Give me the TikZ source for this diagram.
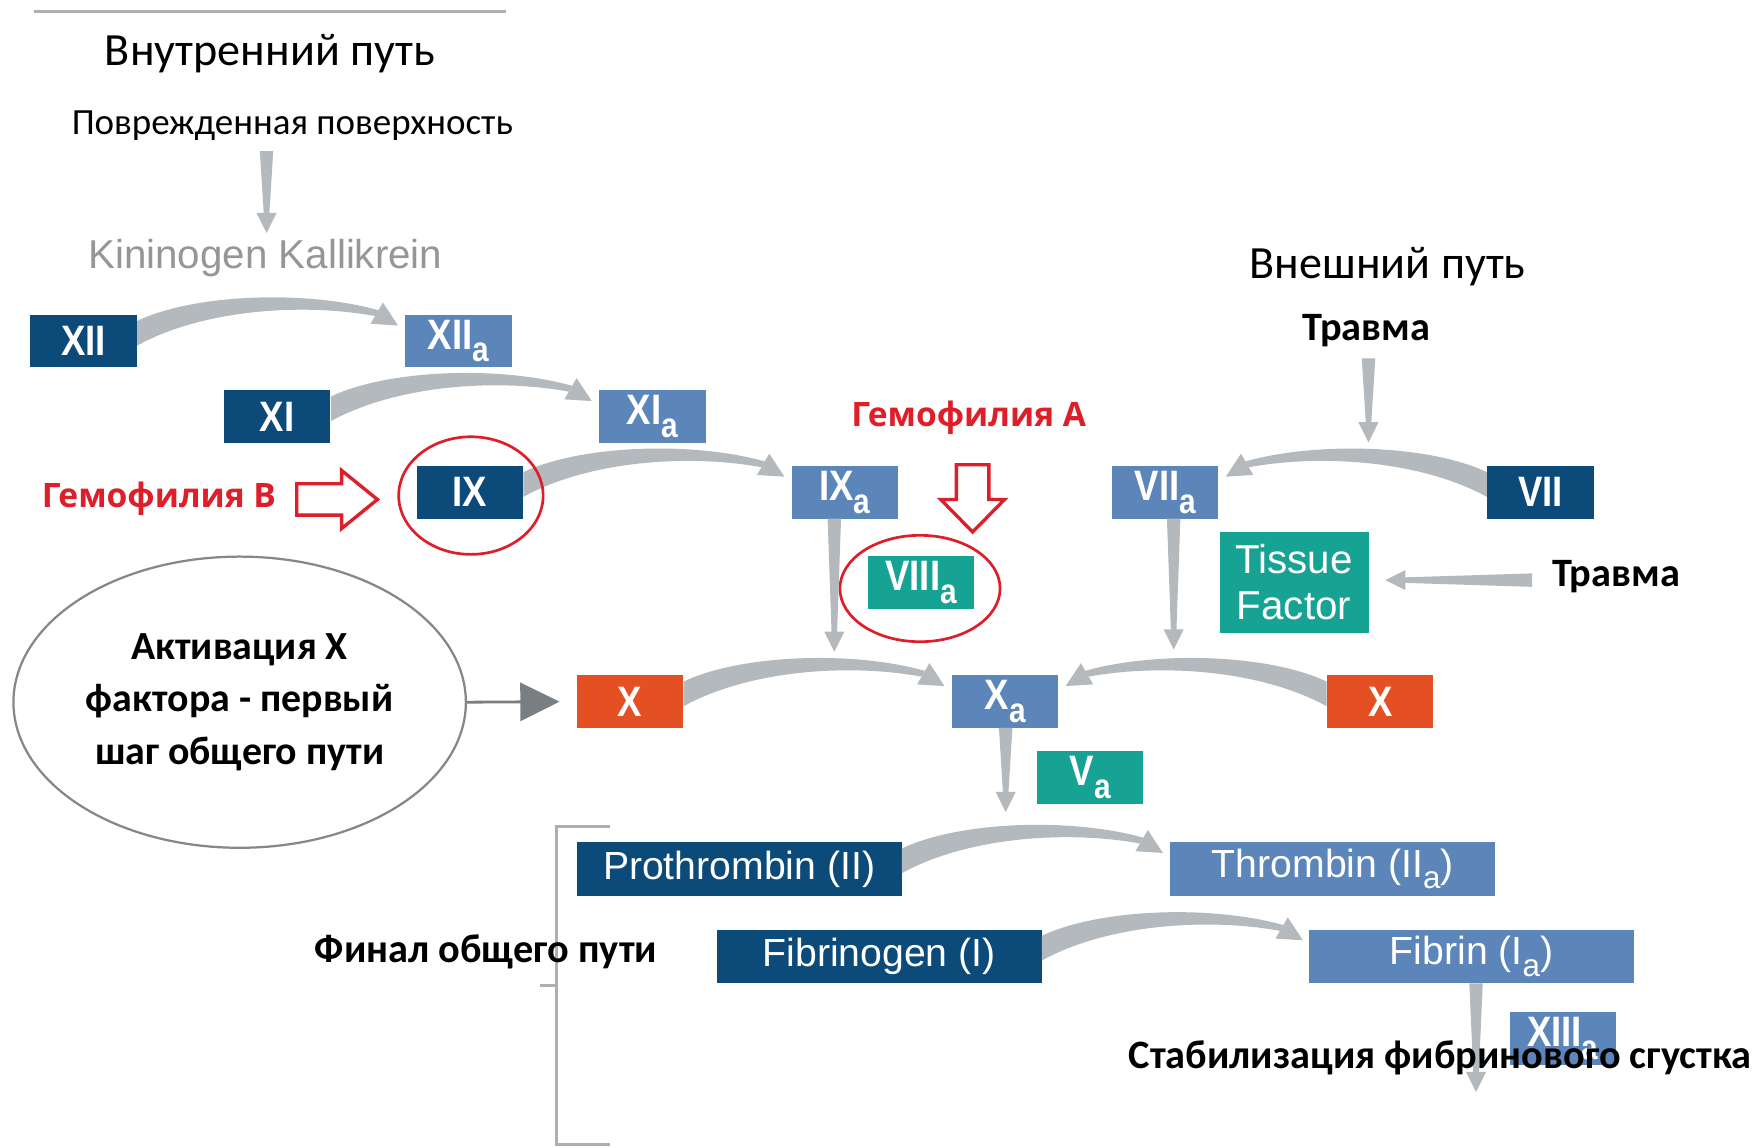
\documentclass[tikz,border=0pt]{standalone}
\usepackage{fontspec}
\setmainfont{Carlito}
\newfontfamily\arialf{Liberation Sans}
\newfontfamily\boxf[FakeStretch=0.86]{Liberation Sans}
\newfontfamily\redf{Open Sans}
\usetikzlibrary{calc,arrows.meta,shapes.geometric}
\definecolor{dblue}{RGB}{12,74,122}
\definecolor{lblue}{RGB}{92,134,186}
\definecolor{teal2}{RGB}{22,163,148}
\definecolor{orng}{RGB}{228,80,36}
\definecolor{agray}{RGB}{180,185,190}
\definecolor{kgray}{RGB}{150,150,150}
\definecolor{hred}{RGB}{222,30,40}
\definecolor{egray}{RGB}{135,135,135}
\definecolor{dgray}{RGB}{120,126,130}
\definecolor{lgray}{RGB}{175,175,175}
\newcommand{\suba}{\raisebox{-0.3em}{\fontsize{15.5}{15.5}\selectfont a}}
\newcommand{\subw}{\raisebox{-0.3em}{\fontsize{14}{14}\selectfont a}}
\tikzset{
  fbox/.style={minimum width=47.5pt, minimum height=23.5pt, inner sep=0pt, text=white,
    font=\boxf\bfseries\fontsize{19}{19}\selectfont},
  dk/.style={fbox, fill=dblue},
  lt/.style={fbox, fill=lblue},
  tl/.style={fbox, fill=teal2},
  og/.style={fbox, fill=orng},
  wbox/.style={minimum width=145pt, minimum height=24pt, inner sep=0pt, text=white,
    font=\arialf\fontsize{17.5}{17.5}\selectfont},
  title/.style={font=\fontsize{20.6}{20.6}\selectfont, inner sep=0pt},
  boldlab/.style={font=\bfseries\fontsize{18}{18}\selectfont, inner sep=0pt},
  redlab/.style={font=\redf\bfseries\fontsize{15}{15}\selectfont, text=hred, inner sep=0pt},
  redring/.style={ellipse, draw=hred, line width=1.2pt, inner sep=0pt},
  hollow/.style={draw=hred, line width=1.5pt, fill=white, line join=miter},
  curv/.pic={
    \fill[agray] (0,6) .. controls (50,-18) and (150,-22) .. (215.5,-3.6)
      -- (212.5,1.6) .. controls (150,-10) and (60,-5) .. (0,28) -- cycle;
    \fill[agray] (208.5,8.5) -- (233,10) -- (219.5,-10.5) -- cycle;
  },
  darr/.pic={
    \fill[agray] (-6,0) -- (6,0) -- (2.5,#1-18) -- (9,#1-18) -- (0,#1)
      -- (-9,#1-18) -- (-2.5,#1-18) -- cycle;
  }
}
\begin{document}
\begin{tikzpicture}[x=0.5pt,y=-0.5pt]
\useasboundingbox[fill=white] (0,0) rectangle (1568,1025);

% top line
\coordinate (tl1) at (30,10);
\coordinate (tl2) at (452,10);
\draw[lgray, line width=1.5pt] (tl1) -- (tl2);

% titles
\node[title] (intr) at (241,48) {Внутренний путь};
\node[font=\fontsize{16.5}{16.5}\selectfont, inner sep=0pt] (surf) at (261,112) {Поврежденная поверхность};
\node[font=\arialf\fontsize{18}{18}\selectfont, text=kgray, inner sep=0pt] (kk) at (237,230) {Kininogen Kallikrein};
\pic at (238,135) {darr=73};

% intrinsic cascade
\node[dk] (xii) at (74.5,304.5) {XII};
\node[lt] (xiia) at (409.5,304.5) {XII\suba};
\node[dk] (xi) at (247.5,372) {XI};
\node[lt] (xia) at (582.5,372) {XI\suba};
\node[dk] (ix) at (419.5,439.5) {IX};
\node[lt] (ixa) at (754.5,439.5) {IX\suba};
\pic at (xii.north east) {curv};
\pic at (xi.north east) {curv};
\pic at (ix.north east) {curv};

% hemophilia B
\node[redlab] (hemb) at (142,445) {Гемофилия В};
\node[redring, minimum width=64.5pt, minimum height=52.5pt] (ringb) at (420.5,442.5) {};
\draw[hollow] (265,432) -- (305,432) -- (305,420) -- (337,446) -- (305,472) -- (305,460) -- (265,460) -- cycle;

% hemophilia A
\node[redlab] (hema) at (865,373) {Гемофилия А};
\draw[hollow] (854,415) -- (883,415) -- (883,446) -- (897,446) -- (868.5,475) -- (840,446) -- (854,446) -- cycle;
\node[tl] (viiia) at (822.5,520) {VIII\suba};
\node[redring, minimum width=71.5pt, minimum height=47.5pt] (ringa) at (821.5,525.5) {};

% extrinsic
\node[title] (extr) at (1239,238) {Внешний путь};
\node[boldlab] (tr1) at (1220,295) {Травма};
\pic at (1222,320) {darr=75};
\node[lt] (viia) at (1040.5,439.5) {VII\suba};
\node[dk] (vii) at (1375.5,439.5) {VII};
\pic[xscale=-1] at (vii.north west) {curv};
\node[tl, minimum width=66.5pt, minimum height=45pt, align=center,
  font=\arialf\fontsize{18}{20.5}\selectfont] (tf) at (1155.5,520) {Tissue\\Factor};
\node[boldlab] (tr2) at (1443,515) {Травма};
\pic[rotate=-90] at (1368,518) {darr=131};

% X activation
\node[ellipse, draw=egray, line width=1pt, minimum width=202pt, minimum height=130pt,
  inner sep=0pt, align=center, font=\bfseries\fontsize{17.8}{23.5}\selectfont] (ell) at (214,627)
  {Активация X\\фактора - первый\\шаг общего пути};
\node[og] (x1) at (562.5,626.5) {X};
\node[lt] (xa) at (897.5,626.5) {X\suba};
\node[og] (x2) at (1232.5,626.5) {X};
\coordinate (ellend) at ($(x1.west)+(-15,0)$);
\draw[dgray, line width=1.25pt, -{Triangle[length=17.5pt,width=17pt]}] (ell.east) -- (ellend);
\pic at (745,463) {darr=119};
\pic at (1048,463) {darr=117};
\pic at (x1.north east) {curv};
\pic[xscale=-1] at (x2.north west) {curv};
\node[tl] (va) at (973.5,694) {V\suba};
\pic at (898,650) {darr=75};

% common pathway
\coordinate (b1) at (545,738);
\coordinate (b2) at (497,738);
\coordinate (b3) at (497,1022);
\coordinate (b4) at (545,1022);
\coordinate (b5) at (497,880);
\coordinate (b6) at (482,880);
\draw[lgray, line width=1.5pt] (b1) -- (b2) -- (b3) -- (b4);
\draw[lgray, line width=1.5pt] (b5) -- (b6);
\node[boldlab] (final) at (434,850) {Финал общего пути};
\node[wbox, fill=dblue] (pro) at (660,776) {Prothrombin (II)};
\node[wbox, fill=lblue] (thr) at (1190,776) {Thrombin (II\subw)};
\node[wbox, fill=dblue] (fbg) at (785,854) {Fibrinogen (I)};
\node[wbox, fill=lblue] (fbn) at (1314,854) {Fibrin (I\subw)};
\pic at (pro.north east) {curv};
\pic at (fbg.north east) {curv};
\node[lt] (xiiia) at (1395.5,927.5) {XIII\suba};
\pic at (1318,878) {darr=97};
\node[boldlab] (stab) at (1286,945) {Стабилизация фибринового сгустка};
\end{tikzpicture}
\end{document}
